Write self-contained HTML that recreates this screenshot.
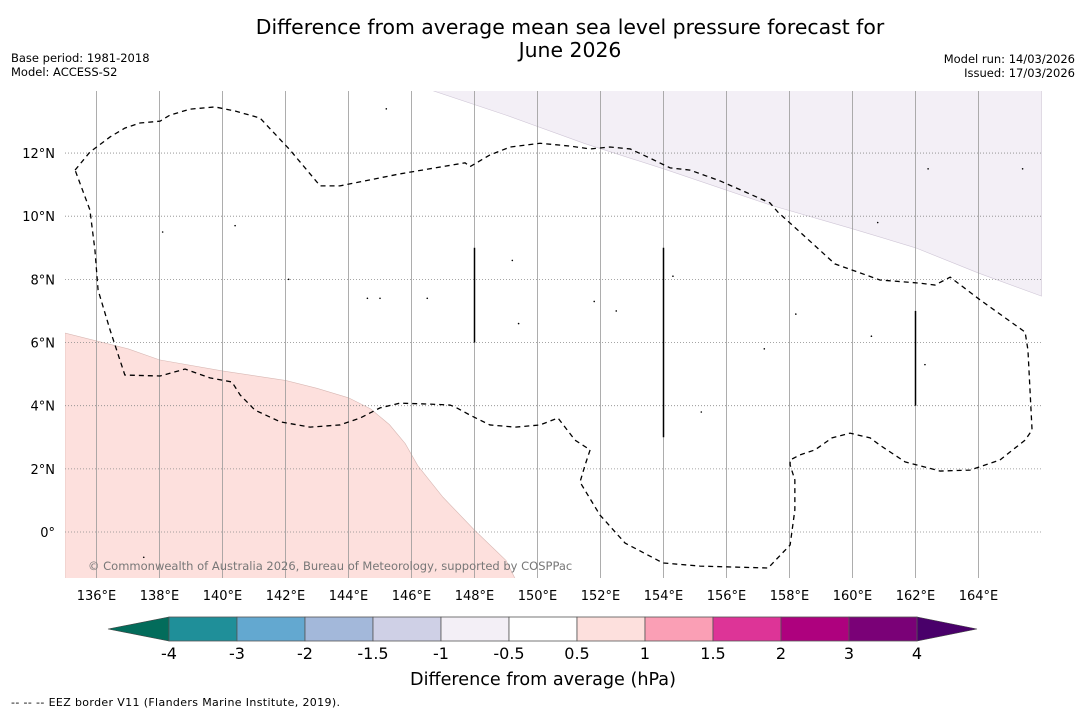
<!DOCTYPE html>
<html><head><meta charset="utf-8">
<style>
body{margin:0;background:#fff;width:1085px;height:713px;overflow:hidden;font-family:"DejaVu Sans","Liberation Sans",sans-serif;}
svg text{font-family:"DejaVu Sans","Liberation Sans",sans-serif;}
</style></head>
<body>
<svg id="chart" width="1085" height="713" xmlns="http://www.w3.org/2000/svg">
<text x="570" y="34" font-size="20.4" text-anchor="middle">Difference from average mean sea level pressure forecast for</text>
<text x="570" y="57" font-size="20.4" text-anchor="middle">June 2026</text>
<text x="11" y="62" font-size="11.5">Base period: 1981-2018</text>
<text x="11" y="76" font-size="11.5">Model: ACCESS-S2</text>
<text x="1075" y="63" font-size="11.5" text-anchor="end">Model run: 14/03/2026</text>
<text x="1075" y="77" font-size="11.5" text-anchor="end">Issued: 17/03/2026</text>
<defs><clipPath id="mapclip"><rect x="65" y="91" width="977" height="487"/></clipPath></defs>
<g id="map" clip-path="url(#mapclip)"></g>
<g id="axes"></g>
<g id="cbar"></g>
<text x="543" y="685" font-size="17.6" text-anchor="middle">Difference from average (hPa)</text>
<text x="11" y="706" font-size="11" textLength="329">--  --  -- EEZ border V11 (Flanders Marine Institute, 2019).</text>
</svg>
<script>
const lonTicks=[136,138,140,142,144,146,148,150,152,154,156,158,160,162,164];
const latTicks=[0,2,4,6,8,10,12];
const cbBounds=[-4,-3,-2,-1.5,-1,-0.5,0.5,1,1.5,2,3,4];
const cbLabels=["-4","-3","-2","-1.5","-1","-0.5","0.5","1","1.5","2","3","4"];
const cbColors=["#1f8f99","#63a8d0","#a3b8da","#cfd0e6","#f3eff6","#ffffff","#fde0dd","#fa9fb5","#dd3497","#ae017e","#7a0177"];
const cbLow="#036c5b", cbHigh="#49006a";
const pinkLon=[135,137,138,140,142,143,144,144.7,145.3,145.8,146.2,147,148,149,149.3,135];
const pinkLat=[6.3,5.8,5.45,5.1,4.8,4.55,4.25,3.9,3.4,2.8,2.1,1.1,0.06,-0.9,-1.5,-1.5];
const purpleLon=[146.6,149,151.5,154,157.4,160,162,164,166,166];
const purpleLat=[14,13.2,12.3,11.5,10.35,9.6,9.0,8.2,7.47,14];
const eezLon=[135.32,135.79,136.43,136.90,137.38,138.02,138.33,138.97,139.76,140.40,141.19,142.14,143.10,143.73,145.63,147.70,147.86,148.49,149.13,150.08,151.03,151.67,152.30,152.94,153.57,154.21,154.84,155.79,156.59,157.38,157.63,158.33,159.44,160.87,162.14,162.62,163.10,164.05,165.48,165.57,165.70,165.48,164.68,163.73,162.78,161.67,160.87,160.56,159.92,159.35,158.81,158.33,158.02,158.02,158.17,158.17,158.02,157.32,155.16,153.98,152.78,151.98,151.35,151.51,151.67,151.19,150.65,150.08,149.29,148.49,147.86,147.38,147.22,146.59,145.63,145.00,144.37,143.73,142.78,141.83,141.03,140.56,140.30,139.60,138.81,138.02,136.90,136.43,136.05,135.95,135.79,135.32];
const eezLat=[11.46,12.03,12.51,12.79,12.95,13.01,13.20,13.39,13.46,13.33,13.11,12.10,10.96,10.96,11.34,11.69,11.57,11.94,12.19,12.31,12.22,12.13,12.19,12.13,11.84,11.53,11.46,11.12,10.77,10.42,10.13,9.50,8.49,7.98,7.88,7.82,8.07,7.35,6.33,5.76,3.23,2.91,2.28,1.96,1.93,2.22,2.75,2.98,3.13,2.98,2.60,2.44,2.28,2.12,1.65,0.70,-0.41,-1.14,-1.08,-0.98,-0.35,0.54,1.58,2.12,2.60,2.91,3.61,3.39,3.32,3.39,3.70,3.96,4.02,4.05,4.08,3.93,3.61,3.39,3.32,3.49,3.86,4.34,4.75,4.88,5.16,4.94,4.97,6.40,7.66,8.93,10.20,11.46];
const lineLon=[148,154,162];
const lineLatTop=[9,9,7];
const lineLatBot=[6,3,4];
const islandLon=[145.2,138.1,140.4,142.1,144.6,145.0,146.5,149.2,149.4,151.8,152.5,154.3,155.2,157.2,158.2,160.6,162.3,160.8,162.4,165.4,137.5];
const islandLat=[13.4,9.5,9.7,8.0,7.4,7.4,7.4,8.6,6.6,7.3,7.0,8.1,3.8,5.8,6.9,6.2,5.3,9.8,11.5,11.5,-0.8];
const NS="http://www.w3.org/2000/svg";
const X=lon=>65+(lon-135)*31.5;
const Y=lat=>532-lat*31.58;
function mk(tag,attrs,parent){const e=document.createElementNS(NS,tag);for(const k in attrs)e.setAttribute(k,attrs[k]);parent.appendChild(e);return e;}
const map=document.getElementById('map'),axes=document.getElementById('axes'),cb=document.getElementById('cbar');
let p=mk('polygon',{points:pinkLon.map((l,i)=>X(l)+','+Y(pinkLat[i])).join(' '),fill:'#fde0dd',stroke:'#d8b8b4','stroke-width':0.6},map);


let q=mk('polygon',{points:purpleLon.map((l,i)=>X(l)+','+Y(purpleLat[i])).join(' '),fill:'#f3eff6',stroke:'#cfc6d6','stroke-width':0.6},map);


lonTicks.forEach(l=>{
 const g=mk('line',{x1:X(l),x2:X(l),y1:91,y2:578,stroke:'#999','stroke-width':0.8},map);
 
 
 const t=mk('text',{x:X(l),y:600,'font-size':13,'text-anchor':'middle'},axes);t.textContent=l+'°E';
 
 
});
latTicks.forEach(l=>{
 const g=mk('line',{x1:65,x2:1042,y1:Y(l),y2:Y(l),stroke:'#888','stroke-width':0.8,'stroke-dasharray':'1,2'},map);
 
 
 const t=mk('text',{x:55,y:Y(l)+5,'font-size':13,'text-anchor':'end'},axes);t.textContent=l===0?'0°':l+'°N';
 
 
});
let e=mk('polyline',{points:eezLon.map((l,i)=>X(l)+','+Y(eezLat[i])).join(' '),fill:'none',stroke:'#000','stroke-width':1.3,'stroke-dasharray':'5,4'},map);


lineLon.forEach((l,i)=>{
 const v=mk('line',{x1:X(l),x2:X(l),y1:Y(lineLatTop[i]),y2:Y(lineLatBot[i]),stroke:'#000','stroke-width':1.5},map);
 
 
});
islandLon.forEach((l,i)=>{
 const c=mk('circle',{cx:X(l),cy:Y(islandLat[i]),r:0.8,fill:'#000'},map);
 
 
});
let cr=mk('text',{x:88,y:570,'font-size':11.5,fill:'#777'},map);cr.textContent='© Commonwealth of Australia 2026, Bureau of Meteorology, supported by COSPPac';


const CX=i=>169+i*68, cy0=617, cy1=641;
let lo=mk('polygon',{points:`108,629 ${CX(0)},${cy0} ${CX(0)},${cy1}`,fill:cbLow,stroke:'#444','stroke-width':0.6},cb);


let hi=mk('polygon',{points:`977,629 ${CX(11)},${cy0} ${CX(11)},${cy1}`,fill:cbHigh,stroke:'#444','stroke-width':0.6},cb);


cbColors.forEach((c,i)=>{
 const r=mk('rect',{x:CX(i),y:cy0,width:68,height:cy1-cy0,fill:c,stroke:'#555','stroke-width':0.8},cb);
 
 
});
cbBounds.forEach((b,i)=>{
 const t=mk('text',{x:CX(i),y:659,'font-size':16,'text-anchor':'middle'},cb);t.textContent=cbLabels[i];
 
 
});
</script>
</body></html>
